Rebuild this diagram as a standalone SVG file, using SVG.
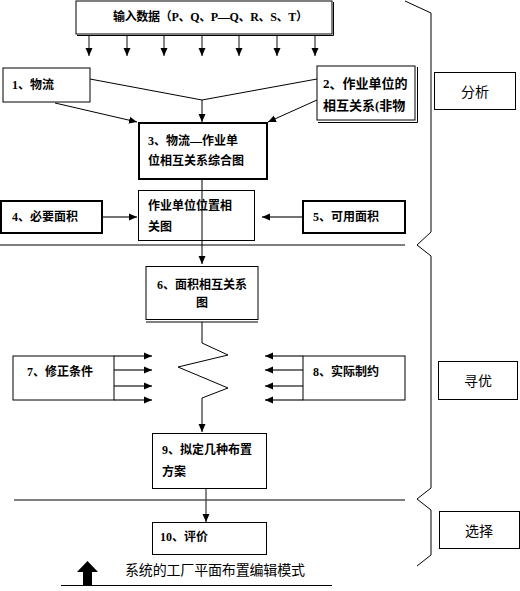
<svg xmlns="http://www.w3.org/2000/svg" width="520" height="591" viewBox="0 0 520 591">
<style>
.box{fill:#fff;stroke:#000;stroke-width:1}
.thick{stroke-width:2}
.t{font-family:"Liberation Serif","Noto Sans CJK SC",serif;font-size:12px;font-weight:bold;fill:#000;dominant-baseline:central}
.n{font-family:"Noto Sans CJK SC",sans-serif;font-size:14px;fill:#000;dominant-baseline:central}
.c{fill:none;stroke:#000;stroke-width:1}
.g{fill:none;stroke:#444;stroke-width:1.3}
</style>
<defs>
<marker id="ah" markerUnits="userSpaceOnUse" markerWidth="8" markerHeight="8" refX="8" refY="4" orient="auto">
<path d="M0,0.5 L8,4 L0,7.5 z" fill="#000"/>
</marker>
</defs>
<rect width="520" height="591" fill="#fff"/>

<g id="connectors">
<line class="g" x1="89" y1="35" x2="89" y2="56" marker-end="url(#ah)"/>
<line class="g" x1="127" y1="35" x2="127" y2="56" marker-end="url(#ah)"/>
<line class="g" x1="164" y1="35" x2="164" y2="56" marker-end="url(#ah)"/>
<line class="g" x1="202" y1="35" x2="202" y2="56" marker-end="url(#ah)"/>
<line class="g" x1="239" y1="35" x2="239" y2="56" marker-end="url(#ah)"/>
<line class="g" x1="277" y1="35" x2="277" y2="56" marker-end="url(#ah)"/>
<line class="g" x1="315" y1="35" x2="315" y2="56" marker-end="url(#ah)"/>
<polyline class="c" points="90,79 202,100 317,79"/>
<line class="c" x1="202" y1="100" x2="202" y2="122" marker-end="url(#ah)"/>
<line class="c" x1="55" y1="103" x2="137" y2="122" marker-end="url(#ah)"/>
<line class="c" x1="317" y1="100" x2="268" y2="122" marker-end="url(#ah)"/>
<line class="g" x1="102" y1="217" x2="137" y2="217" marker-end="url(#ah)"/>
<line class="g" x1="303" y1="217" x2="262" y2="217" marker-end="url(#ah)"/>
<line class="c" x1="0" y1="245" x2="405" y2="245"/>
<line class="c" x1="14" y1="500" x2="405" y2="500"/>
<line class="g" x1="114" y1="356" x2="152" y2="356" marker-end="url(#ah)"/>
<line class="g" x1="114" y1="370" x2="152" y2="370" marker-end="url(#ah)"/>
<line class="g" x1="114" y1="386" x2="152" y2="386" marker-end="url(#ah)"/>
<line class="g" x1="114" y1="400" x2="152" y2="400" marker-end="url(#ah)"/>
<line class="g" x1="303" y1="356" x2="265" y2="356" marker-end="url(#ah)"/>
<line class="g" x1="303" y1="370" x2="265" y2="370" marker-end="url(#ah)"/>
<line class="g" x1="303" y1="386" x2="265" y2="386" marker-end="url(#ah)"/>
<line class="g" x1="303" y1="400" x2="265" y2="400" marker-end="url(#ah)"/>
<polyline class="c" points="202,322 202,343 228,355 178,367 228,388 202,398 202,432" marker-end="url(#ah)"/>
<line class="g" x1="206" y1="488" x2="206" y2="522" marker-end="url(#ah)"/>
<polyline class="c" points="405,1 431,13 431,232 417,245 431,256 431,488 417,499 431,510 431,555 417,566"/>
</g>

<g id="n0">
<rect class="box" x="76" y="1" width="256" height="33" stroke-width="1.5"/>
<line class="c" x1="77" y1="35.5" x2="333.5" y2="35.5"/>
<line class="c" x1="333.5" y1="2" x2="333.5" y2="35.5"/>
<text class="t" x="113" y="17" textLength="195">输入数据（P、Q、P—Q、R、S、T）</text>
</g>
<g id="n1">
<rect class="box" x="3" y="68" width="87" height="34" stroke-width="1.5"/>
<text class="t" x="12" y="85">1、物流</text>
</g>
<g id="n2">
<rect class="box" x="317" y="66" width="98" height="54" stroke-width="1.5"/>
<line class="c" x1="318" y1="122.5" x2="417.5" y2="122.5"/>
<line class="c" x1="417.5" y1="67" x2="417.5" y2="122.5"/>
<text class="t" x="323" y="83" style="font-size:13px">2、作业单位的</text>
<text class="t" x="323" y="105" style="font-size:13px">相互关系(非物</text>
</g>
<g id="n3">
<rect class="box thick" x="139" y="123" width="128" height="56"/>
<text class="t" x="148" y="141">3、物流—作业单</text>
<text class="t" x="148" y="161">位相互关系综合图</text>
</g>
<g id="n3b">
<rect class="box" x="138.5" y="190.5" width="116" height="50"/>
<line class="c" x1="202" y1="179" x2="202" y2="264" marker-end="url(#ah)"/>
<text class="t" x="148" y="206">作业单位位置相</text>
<text class="t" x="148" y="227">关图</text>
</g>
<g id="n4">
<rect class="box thick" x="1" y="201" width="101" height="32"/>
<text class="t" x="12" y="217">4、必要面积</text>
</g>
<g id="n5">
<rect class="box thick" x="303" y="201" width="102" height="32"/>
<text class="t" x="313" y="217">5、可用面积</text>
</g>
<g id="n6">
<rect class="box" x="146" y="266.5" width="112" height="53"/>
<line class="c" x1="146" y1="322" x2="258" y2="322"/>
<text class="t" x="202" y="285" text-anchor="middle">6、面积相互关系</text>
<text class="t" x="202" y="303" text-anchor="middle">图</text>
</g>
<g id="n7">
<rect class="box" x="13" y="356" width="101" height="44" stroke-width="1.5"/>
<text class="t" x="27" y="372">7、修正条件</text>
</g>
<g id="n8">
<rect class="box" x="303" y="356" width="102" height="44" stroke-width="1.5"/>
<text class="t" x="313" y="372">8、实际制约</text>
</g>
<g id="n9">
<rect class="box" x="152.5" y="433.5" width="114" height="55"/>
<text class="t" x="162" y="450">9、拟定几种布置</text>
<text class="t" x="162" y="472">方案</text>
</g>
<g id="n10">
<rect class="box" x="152.5" y="522.5" width="114" height="32"/>
<text class="t" x="160" y="537">10、评价</text>
</g>
<g id="s1">
<rect class="box" x="434.5" y="72.5" width="81" height="37"/>
<text class="n" x="475" y="91" text-anchor="middle">分析</text>
</g>
<g id="s2">
<rect class="box" x="438.5" y="361.5" width="79" height="38"/>
<text class="n" x="478" y="380" text-anchor="middle">寻优</text>
</g>
<g id="s3">
<rect class="box" x="439.5" y="511.5" width="80" height="37"/>
<text class="n" x="479" y="530" text-anchor="middle">选择</text>
</g>
<g id="legend">
<path d="M83,585 L83,572 L77,572 L87.5,561 L98,572 L92,572 L92,585 z" fill="#000"/>
<line class="c" x1="61" y1="585.5" x2="332" y2="585.5"/>
<text class="n" x="125" y="569" textLength="180">系统的工厂平面布置编辑模式</text>
</g>
</svg>
